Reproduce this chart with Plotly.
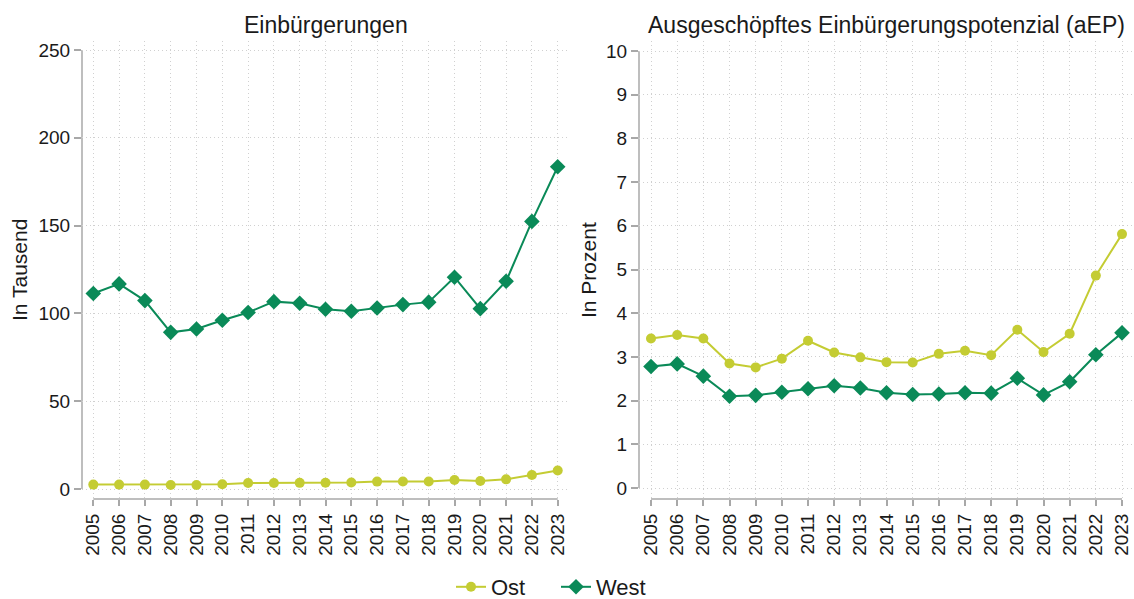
import plotly.graph_objects as go

# ---- data ----
years = list(range(2005, 2024))
year_labels = [str(y) for y in years]

einb_ost = [2.5, 2.5, 2.5, 2.3, 2.3, 2.7, 3.4, 3.4, 3.5, 3.6, 3.7, 4.2, 4.3, 4.3, 5.1, 4.6, 5.5, 8.0, 10.5]
einb_west = [111.3, 116.8, 107.3, 89.2, 91.1, 96.1, 100.5, 106.7, 105.8, 102.4, 101.2, 103.1, 105.0, 106.4, 120.6, 102.7, 118.3, 152.4, 183.5]

aep_ost = [3.42, 3.50, 3.42, 2.85, 2.76, 2.96, 3.37, 3.10, 2.99, 2.88, 2.87, 3.07, 3.14, 3.04, 3.62, 3.11, 3.53, 4.86, 5.81]
aep_west = [2.78, 2.84, 2.56, 2.10, 2.12, 2.19, 2.27, 2.34, 2.29, 2.18, 2.14, 2.15, 2.18, 2.17, 2.51, 2.13, 2.43, 3.05, 3.55]

left_yticks = [0, 50, 100, 150, 200, 250]
right_yticks = list(range(0, 11))

title_left = "Einbürgerungen"
title_right = "Ausgeschöpftes Einbürgerungspotenzial (aEP)"
ytitle_left = "In Tausend"
ytitle_right = "In Prozent"

# ---- style ----
W, H = 1134, 599
OST = "#c4cc33"
WEST = "#0a8a58"
FONT = "Liberation Sans, Arial, sans-serif"
TXT = "#1a1a1a"
AX = "#a8a8a8"
GRID = "#d0d0d0"

def px_x(p):
    return p / W

def px_y(p):
    return 1 - p / H

fig = go.Figure()

for xa, ya, ost, west, show in [("x", "y", einb_ost, einb_west, True),
                                 ("x2", "y2", aep_ost, aep_west, False)]:
    fig.add_trace(go.Scatter(x=years, y=ost, name="Ost", mode="lines+markers",
                             line=dict(color=OST, width=2),
                             marker=dict(symbol="circle", size=10, color=OST),
                             xaxis=xa, yaxis=ya, showlegend=show, legendgroup="Ost"))
    fig.add_trace(go.Scatter(x=years, y=west, name="West", mode="lines+markers",
                             line=dict(color=WEST, width=2),
                             marker=dict(symbol="diamond", size=12, color=WEST),
                             xaxis=xa, yaxis=ya, showlegend=show, legendgroup="West"))

ydom = [px_y(499), px_y(41)]

common_x = dict(tickmode="array", tickvals=years, ticktext=year_labels, tickangle=-90,
                ticks="outside", ticklen=6, tickwidth=1.5, tickcolor=AX,
                showline=False, showgrid=True, gridcolor=GRID, griddash="1px,3px", gridwidth=1,
                zeroline=False, tickfont=dict(family=FONT, size=19, color=TXT),
                fixedrange=True)
common_y = dict(ticks="outside", ticklen=7, tickwidth=1.5, tickcolor=AX,
                showline=False, showgrid=True, gridcolor=GRID, griddash="1px,3px", gridwidth=1,
                zeroline=False, tickfont=dict(family=FONT, size=19, color=TXT),
                domain=ydom, fixedrange=True)

# left: 2005 at 93.3px, 2023 at 557.7px ; right: 2005 at 651px, 2023 at 1122px
l_ppy = (557.7 - 93.3) / 18
r_ppy = (1122 - 651) / 18
fig.update_layout(
    xaxis=dict(domain=[px_x(82), px_x(569)],
               range=[years[0] - (93.3 - 82) / l_ppy, years[-1] + (569 - 557.7) / l_ppy],
               anchor="y", **common_x),
    yaxis=dict(range=[-10 / 1.756, 250 + 9 / 1.756], tickvals=left_yticks,
               anchor="x", **common_y),
    xaxis2=dict(domain=[px_x(639), 1.0],
                range=[years[0] - (651 - 639) / r_ppy, years[-1] + (1134 - 1122) / r_ppy],
                anchor="y2", **common_x),
    yaxis2=dict(range=[-11 / 43.7, 10 + 10 / 43.7], tickvals=right_yticks,
                anchor="x2", **common_y),
)

# axis lines spanning only the tick extents
shapes = []
for xa, ya, yt in [("x", "y", left_yticks), ("x2", "y2", right_yticks)]:
    shapes.append(dict(type="line", xref=f"{xa} domain", yref=ya, x0=0, x1=0,
                       y0=yt[0], y1=yt[-1], line=dict(color=AX, width=1.5), layer="below"))
    shapes.append(dict(type="line", xref=xa, yref=f"{ya} domain", x0=years[0], x1=years[-1],
                       y0=0, y1=0, line=dict(color=AX, width=1.5), layer="below"))
fig.update_layout(shapes=shapes)

ann = []
ann.append(dict(text=title_left, xref="x domain", x=0.5, yref="paper", y=px_y(25),
                xanchor="center", yanchor="middle", showarrow=False,
                font=dict(family=FONT, size=23, color=TXT)))
ann.append(dict(text=title_right, xref="x2 domain", x=0.5, yref="paper", y=px_y(25),
                xanchor="center", yanchor="middle", showarrow=False,
                font=dict(family=FONT, size=23, color=TXT)))
ann.append(dict(text=ytitle_left, xref="paper", x=px_x(19), yref="paper", y=px_y(270),
                xanchor="center", yanchor="middle", textangle=-90, showarrow=False,
                font=dict(family=FONT, size=21, color=TXT)))
ann.append(dict(text=ytitle_right, xref="paper", x=px_x(588), yref="paper", y=px_y(270),
                xanchor="center", yanchor="middle", textangle=-90, showarrow=False,
                font=dict(family=FONT, size=21, color=TXT)))

fig.update_layout(
    annotations=ann,
    width=W, height=H,
    margin=dict(l=0, r=0, t=0, b=0, autoexpand=False),
    paper_bgcolor="white", plot_bgcolor="white",
    showlegend=True,
    legend=dict(orientation="h", x=px_x(556), xanchor="center", y=px_y(587), yanchor="middle",
                font=dict(family=FONT, size=22, color=TXT), bgcolor="rgba(0,0,0,0)",
                itemwidth=30, tracegroupgap=0, entrywidth=60),
    font=dict(family=FONT, color=TXT),
)

fig.write_html("out.html",
               config={"displayModeBar": False},
               post_script="document.body.style.margin='0';document.body.style.padding='0';"
                           "document.body.style.overflow='hidden';")
